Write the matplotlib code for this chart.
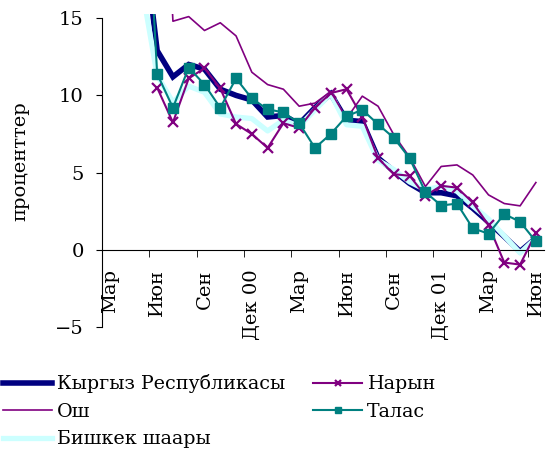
import numpy as np
import matplotlib
matplotlib.use("Agg")
import matplotlib.pyplot as plt

# months Mar 2000 .. Jun 2002, data from May 2000
months = ["Мар", "Апр", "Май", "Июн", "Июл", "Авг", "Сен", "Окт", "Ноя", "Дек 00",
          "Янв", "Фев", "Мар", "Апр", "Май", "Июн", "Июл", "Авг", "Сен", "Окт", "Ноя", "Дек 01",
          "Янв", "Фев", "Мар", "Апр", "Май", "Июн"]
start = 2  # May 2000

nan = np.nan
kyrgyz = [21.5, 12.9, 11.2, 12.0, 11.7, 10.4, 10.0, 9.7, 8.6, 8.7, 8.15, 9.2, 10.1,
          8.4, 8.3, 5.95, 5.1, 4.3, 3.7, 3.7, 3.5, 2.7, 1.8, 0.86, -0.1, 0.76]
osh = [nan, 35.0, 14.8, 15.1, 14.2, 14.7, 13.85, 11.5, 10.7, 10.4, 9.3, 9.5, 10.25,
       8.5, 9.95, 9.3, 7.45, 6.0, 4.1, 5.4, 5.5, 4.85, 3.56, 3.0, 2.85, 4.36]
bishkek = [17.2, 11.3, 9.55, 10.6, 10.2, 8.8, 8.6, 8.5, 7.7, 8.4, 8.0, 9.06, 10.1,
           8.1, 8.0, 5.8, 5.2, 4.4, 3.9, 4.1, 3.8, 2.85, 2.0, 0.9, -0.2, 0.75]
naryn = [nan, 10.5, 8.25, 11.1, 11.76, 10.45, 8.15, 7.5, 6.6, 8.2, 7.9, 9.2, 10.15,
         10.4, 8.6, 5.93, 4.9, 4.8, 3.5, 4.15, 4.03, 3.07, 1.6, -0.82, -0.95, 1.08]
talas = [30.0, 11.4, 9.2, 11.8, 10.7, 9.2, 11.1, 9.8, 9.1, 8.9, 8.2, 6.6, 7.5,
         8.65, 9.07, 8.13, 7.25, 5.93, 3.74, 2.87, 3.0, 1.4, 1.05, 2.32, 1.82, 0.55]

names = ["Кыргыз Республикасы", "Ош", "Бишкек шаары", "Нарын", "Талас"]

plt.rcParams['font.family'] = ['DejaVu Serif']

fig = plt.figure(figsize=(5.6, 4.5), dpi=100)
ax = fig.add_axes([0.182, 0.273, 0.789, 0.697])

x = np.arange(start, start + len(kyrgyz))

l1, = ax.plot(x, kyrgyz, color="#000080", lw=4, solid_joinstyle="miter", zorder=2)
l2, = ax.plot(x, osh, color="#800080", lw=1.2, zorder=3)
l3, = ax.plot(x, bishkek, color="#CCFFFF", lw=3.8, zorder=2.5)
l4, = ax.plot(x, naryn, color="#800080", lw=1.5, marker="x", ms=7, mew=1.6, zorder=4)
l5, = ax.plot(x, talas, color="#008080", lw=1.5, marker="s", ms=7.5, zorder=5)

ax.set_xlim(-0.5, len(months) - 0.5)
ax.set_ylim(-5, 15.3)

for s in ["top", "right"]:
    ax.spines[s].set_visible(False)
ax.spines["left"].set_bounds(-5, 15)
ax.spines["bottom"].set_position(("data", 0))

ax.set_yticks([-5, 0, 5, 10, 15])
ax.tick_params(axis="y", direction="out", length=4, pad=9, labelsize=14)

lab_idx = list(range(0, len(months), 3))
ax.set_xticks(lab_idx)
ax.set_xticklabels([months[i] for i in lab_idx], rotation=90, fontsize=14)
ax.set_xticks([i - 0.5 for i in lab_idx], minor=True)
ax.tick_params(axis="x", which="major", length=0, pad=14)
ax.tick_params(axis="x", which="minor", direction="out", length=5)

ax.set_ylabel("проценттер", fontsize=14)
ax.yaxis.set_label_coords(-0.165, 0.53)

fig.legend([l1, l2, l3, l4, l5], names, loc="upper left", bbox_to_anchor=(0.005, 0.168),
           ncol=2, frameon=False, fontsize=13.7, handlelength=2.6, handletextpad=0.25,
           columnspacing=1.45, labelspacing=0.5, borderaxespad=0, borderpad=0,
           markerscale=0.6)

fig.savefig("out.png", dpi=100)
